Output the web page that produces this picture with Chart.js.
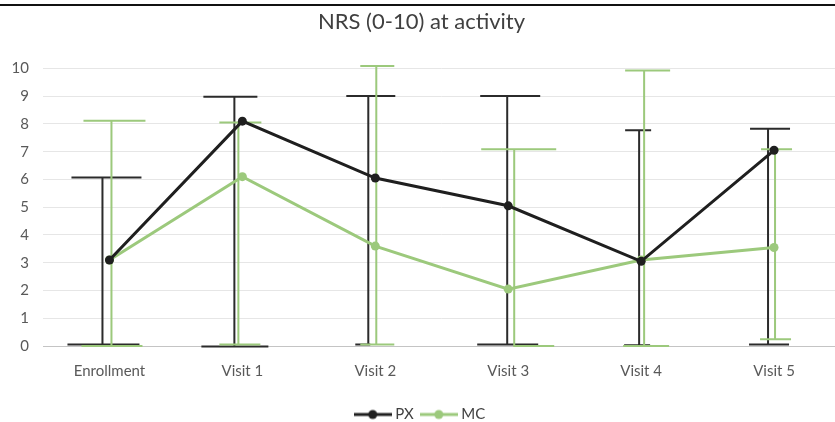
<!DOCTYPE html>
<html lang="en">
<head>
    <meta charset="UTF-8">
    <title>NRS (0-10) at activity</title>
    <script src="https://cdn.jsdelivr.net/npm/chart.js"></script>
    <style>
        html, body { margin: 0; padding: 0; background: #fff; overflow: hidden; }
        #wrap { width: 845px; height: 422px; }
    </style>
</head>
<body>
    <div id="wrap"><canvas id="myChart"></canvas></div>
    <script>
        // data
        var categories = ['Enrollment', 'Visit 1', 'Visit 2', 'Visit 3', 'Visit 4', 'Visit 5'];
        var pxMean  = [3.1, 8.1, 6.05, 5.05, 3.05, 7.05];
        var pxUpper = [6.07, 8.98, 9.01, 9.01, 7.77, 7.83];
        var pxLower = [0.05, -0.02, 0.05, 0.05, 0.03, 0.05];
        var mcMean  = [3.1, 6.1, 3.6, 2.05, 3.1, 3.55];
        var mcUpper = [8.11, 8.05, 10.09, 7.09, 9.92, 7.09];
        var mcLower = [0.0, 0.05, 0.05, 0.0, 0.0, 0.24];
        var yTicks  = [0, 1, 2, 3, 4, 5, 6, 7, 8, 9, 10];

        // look of the error bars (pixel offsets from the category centre):
        // [bar dx, top cap left, top cap right, bottom cap left, bottom cap right]
        var pxBarLook = [[-7, -38, 32, -42, 30], [-8, -39, 15, -41, 26], [-7, -29, 20, -20, -5],
                         [-1, -28, 32, -31, 30], [-2, -16, 10, -17, 9], [-6, -24, 16, -25, 15]];
        var mcBarLook = [[2, -26, 36, -28, 33], [-4, -23, 19, -23, 18], [1, -15, 19, -15, 19],
                         [6, -27, 48, 5, 46], [3, -16, 29, -18, 28], [1, -13, 18, -14, 17]];

        var BLACK = '#1f1f1f';
        var GREEN = '#9cc97c';
        var FONT = 'Lato, "Open Sans", sans-serif';

        // small line-with-dot picture for the legend
        function legendMark(color) {
            var c = document.createElement('canvas');
            c.width = 38; c.height = 12;
            var g = c.getContext('2d');
            g.strokeStyle = color; g.lineWidth = 3;
            g.beginPath(); g.moveTo(0, 6); g.lineTo(38, 6); g.stroke();
            g.fillStyle = color;
            g.beginPath(); g.arc(19, 6, 4.5, 0, Math.PI * 2); g.fill();
            return c;
        }

        var errorBars = {
            id: 'errorBars',
            beforeDatasetsDraw: function(chart) {
                var ctx = chart.ctx, x = chart.scales.x, y = chart.scales.y;
                var sets = [
                    { up: pxUpper, lo: pxLower, look: pxBarLook, color: '#2b2b2b' },
                    { up: mcUpper, lo: mcLower, look: mcBarLook, color: GREEN }
                ];
                ctx.save();
                ctx.lineWidth = 2;
                sets.forEach(function(s) {
                    ctx.strokeStyle = s.color;
                    categories.forEach(function(cat, i) {
                        var cx = x.getPixelForValue(i);
                        var l = s.look[i];
                        var yt = y.getPixelForValue(s.up[i]);
                        var yb = y.getPixelForValue(s.lo[i]);
                        ctx.beginPath();
                        ctx.moveTo(cx + l[0], yt); ctx.lineTo(cx + l[0], yb);
                        ctx.moveTo(cx + l[1], yt); ctx.lineTo(cx + l[2], yt);
                        ctx.moveTo(cx + l[3], yb); ctx.lineTo(cx + l[4], yb);
                        ctx.stroke();
                    });
                });
                ctx.restore();
            }
        };

        var topRule = {
            id: 'topRule',
            beforeDraw: function(chart) {
                chart.ctx.save();
                chart.ctx.fillStyle = '#111';
                chart.ctx.fillRect(0, 4, chart.width, 2);
                chart.ctx.restore();
            }
        };

        var ctx = document.getElementById('myChart').getContext('2d');
        var myChart = new Chart(ctx, {
            type: 'line',
            data: {
                labels: categories,
                datasets: [{
                    label: 'PX',
                    data: pxMean,
                    borderColor: BLACK,
                    backgroundColor: BLACK,
                    borderWidth: 3,
                    pointRadius: 4.5,
                    pointBorderWidth: 0,
                    pointStyle: 'circle',
                    tension: 0,
                    fill: false
                }, {
                    label: 'MC',
                    data: mcMean,
                    borderColor: GREEN,
                    backgroundColor: GREEN,
                    borderWidth: 3,
                    pointRadius: 4.5,
                    pointBorderWidth: 0,
                    pointStyle: 'circle',
                    tension: 0,
                    fill: false
                }]
            },
            options: {
                responsive: true,
                maintainAspectRatio: false,
                animation: false,
                layout: { padding: { left: 0, right: 2, top: 0, bottom: -10 } },
                plugins: {
                    title: {
                        display: true,
                        text: 'NRS (0-10) at activity',
                        color: '#404040',
                        font: { family: FONT, size: 22, weight: 'normal' },
                        padding: { top: 9, bottom: 33 }
                    },
                    legend: {
                        position: 'bottom',
                        labels: {
                            color: '#404040',
                            font: { family: FONT, size: 15 },
                            usePointStyle: true,
                            pointStyleWidth: 30,
                            boxHeight: 12,
                            padding: 10,
                            generateLabels: function(chart) {
                                return chart.data.datasets.map(function(d, i) {
                                    return {
                                        text: d.label,
                                        pointStyle: legendMark(d.borderColor),
                                        fillStyle: d.borderColor,
                                        strokeStyle: d.borderColor,
                                        lineWidth: 0,
                                        fontColor: '#404040',
                                        datasetIndex: i
                                    };
                                });
                            }
                        }
                    },
                    tooltip: { enabled: false }
                },
                scales: {
                    x: {
                        offset: true,
                        afterFit: function(scale) { scale.height += 9; },
                        grid: { display: false, offset: true },
                        border: { display: true, color: '#c4c4c4', width: 1 },
                        ticks: {
                            color: '#595959',
                            font: { family: FONT, size: 15 },
                            padding: 8,
                            maxRotation: 0
                        }
                    },
                    y: {
                        min: 0,
                        max: 10,
                        afterFit: function(scale) { scale.width = 43; },
                        afterBuildTicks: function(scale) {
                            scale.ticks = yTicks.map(function(v) { return { value: v }; });
                        },
                        border: { display: false },
                        grid: { color: '#e6e6e6', lineWidth: 1, drawTicks: false },
                        ticks: {
                            color: '#595959',
                            font: { family: FONT, size: 15 },
                            padding: 14
                        }
                    }
                }
            },
            plugins: [topRule, errorBars]
        });
    </script>
</body>
</html>
